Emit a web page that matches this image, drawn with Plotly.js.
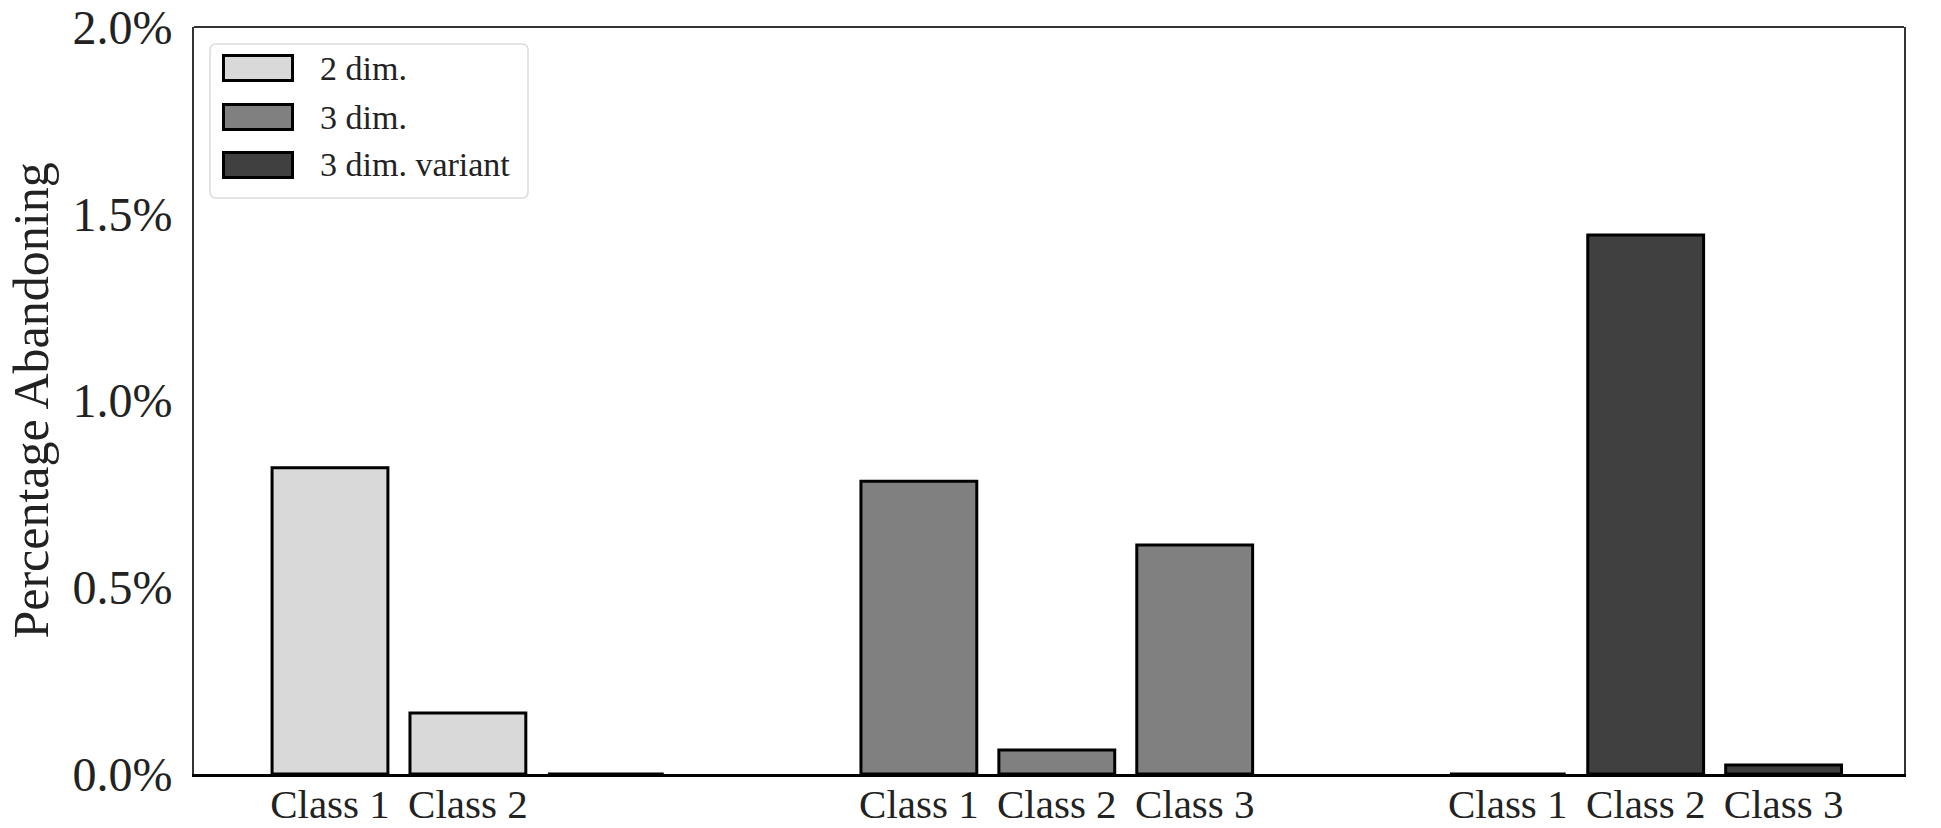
<!DOCTYPE html>
<html><head><meta charset="utf-8">
<script src="https://cdn.plot.ly/plotly-3.0.1.min.js"></script>
<style>html,body{margin:0;padding:0;background:#fff}#chart{width:1941px;height:828px}</style>
</head><body><div id="chart"></div>
<script>
// ---- data ----
const seriesNames = ["2 dim.", "3 dim.", "3 dim. variant"];
const classNames = ["Class 1", "Class 2", "Class 3"];
const values2dim = [0.82, 0.163, 0];
const values3dim = [0.784, 0.064, 0.613];
const values3dimVariant = [0, 1.443, 0.024];
const tickLabels2dim = ["Class 1", "Class 2", ""];
const tickLabels3dim = ["Class 1", "Class 2", "Class 3"];
const tickLabels3dimVariant = ["Class 1", "Class 2", "Class 3"];
const yTickValues = [0, 0.5, 1.0, 1.5, 2.0];
const yTickLabels = ["0.0%", "0.5%", "1.0%", "1.5%", "2.0%"];
const yAxisTitle = "Percentage Abandoning";

// ---- style / layout constants ----
const seriesColors = ["#d9d9d9", "#808080", "#404040"];
const W = 1941, H = 828;
const M = {l: 194, r: 37, t: 27, b: 54};
const PW = W - M.l - M.r, PH = H - M.t - M.b;
const GROUP_STEP = 4.27, BAR_W = 0.84;
const FONT = "Liberation Serif, Times New Roman, serif";
const TXT = "#222";

const seriesValues = [values2dim, values3dim, values3dimVariant];
const seriesTicks = [tickLabels2dim, tickLabels3dim, tickLabels3dimVariant];

const traces = [];
const tickvals = [], ticktext = [];
seriesValues.forEach((vals, g) => {
  const xs = classNames.map((c, i) => g * GROUP_STEP + i);
  traces.push({
    type: "bar", name: seriesNames[g], x: xs, y: vals, width: BAR_W,
    marker: {color: seriesColors[g], line: {color: "#000", width: 3}},
    showlegend: false, hoverinfo: "x+y"
  });
  xs.forEach((x, i) => { tickvals.push(x); ticktext.push(seriesTicks[g][i]); });
});

// pixel -> paper helpers (for the hand-drawn legend box)
const px = v => (v - M.l) / PW;
const py = v => (H - M.b - v) / PH;

const shapes = [
  {type: "line", xref: "paper", yref: "paper", x0: 0, x1: 1, y0: 1, y1: 1,
   line: {color: "#333", width: 2}}
];
const annotations = [];

// legend box with rounded corners
(function(){
  const x0 = px(210), x1 = px(528), yT = py(44), yB = py(198);
  const rx = 6 / PW, ry = 6 / PH;
  const p = `M ${x0+rx},${yT} L ${x1-rx},${yT} Q ${x1},${yT} ${x1},${yT-ry} L ${x1},${yB+ry} Q ${x1},${yB} ${x1-rx},${yB} L ${x0+rx},${yB} Q ${x0},${yB} ${x0},${yB+ry} L ${x0},${yT-ry} Q ${x0},${yT} ${x0+rx},${yT} Z`;
  shapes.push({type: "path", xref: "paper", yref: "paper", path: p,
    fillcolor: "rgba(255,255,255,0.8)", line: {color: "#dcdcdc", width: 1.5}});
  const rowY = [68, 117, 165];
  seriesNames.forEach((name, i) => {
    shapes.push({type: "rect", xref: "paper", yref: "paper",
      x0: px(223.5), x1: px(292.5), y0: py(rowY[i] + 12.5), y1: py(rowY[i] - 12.5),
      fillcolor: seriesColors[i], line: {color: "#000", width: 3}});
    annotations.push({xref: "paper", yref: "paper", x: px(318), y: py(rowY[i]),
      xanchor: "left", yanchor: "middle", showarrow: false, text: name,
      font: {family: FONT, size: 34, color: TXT}});
  });
})();

const layout = {
  width: W, height: H, margin: M,
  paper_bgcolor: "#fff", plot_bgcolor: "#fff",
  barmode: "overlay",
  font: {family: FONT, color: TXT},
  xaxis: {
    range: [-0.986, 2 * GROUP_STEP + 2 + 0.873],
    tickmode: "array", tickvals: tickvals, ticktext: ticktext,
    ticks: "", showgrid: false, zeroline: false,
    showline: true, linecolor: "#000", linewidth: 3,
    ticklabelstandoff: -8, ticklabeloverflow: "allow",
    tickfont: {family: FONT, size: 41, color: TXT}
  },
  yaxis: {
    range: [0, 2.0], tickmode: "array", tickvals: yTickValues, ticktext: yTickLabels,
    ticks: "", showgrid: false, zeroline: false,
    showline: true, mirror: true, linecolor: "#333", linewidth: 2,
    ticklabelstandoff: 10, ticklabeloverflow: "allow",
    tickfont: {family: FONT, size: 48, color: TXT},
    title: {text: yAxisTitle, font: {family: FONT, size: 50, color: TXT}, standoff: 8}
  },
  shapes: shapes, annotations: annotations
};

Plotly.newPlot("chart", traces, layout, {displayModeBar: false, staticPlot: true});
</script>
</body></html>
